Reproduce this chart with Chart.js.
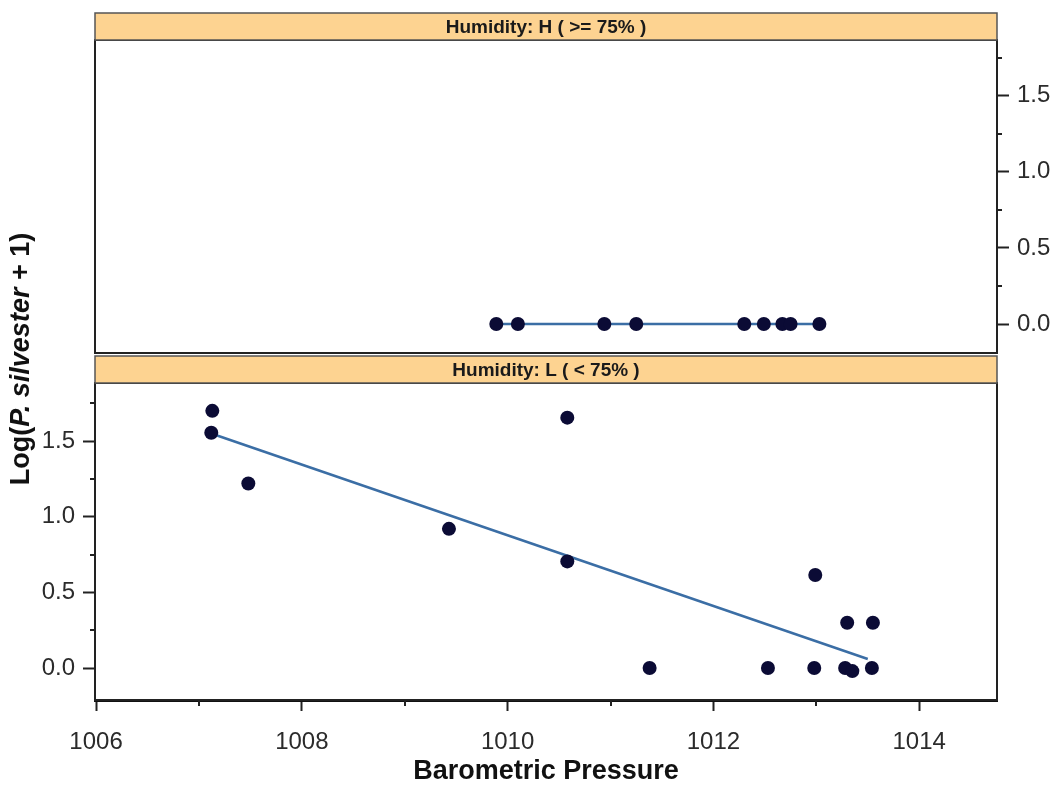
<!DOCTYPE html>
<html><head><meta charset="utf-8">
<script src="https://cdn.jsdelivr.net/npm/chart.js@4"></script>
<style>
html,body{margin:0;padding:0;background:#fff;}
#wrap{position:relative;width:1061px;height:785px;overflow:hidden;}
canvas{position:absolute;left:0;top:0;}
</style></head><body>
<div id="wrap"><canvas id="cLow" width="1061" height="785"></canvas><canvas id="cHigh" width="1061" height="355"></canvas></div>
<script>
// ---- data ----
const xTickValues = [1006, 1008, 1010, 1012, 1014];
const xMinorTicks = [1007, 1009, 1011, 1013];
const yTickValues = [0, 0.5, 1.0, 1.5];
const yMinorTicks = [0.25, 0.75, 1.25, 1.75];
const highLabel = 'Humidity: H ( >= 75% )';
const lowLabel = 'Humidity: L ( < 75% )';
const xTitle = 'Barometric Pressure';

const highPressure = [1009.89, 1010.10, 1010.94, 1011.25, 1012.30, 1012.49, 1012.67, 1012.75, 1013.03];
const highLog      = [0, 0, 0, 0, 0, 0, 0, 0, 0];
const highFitPressure = [1009.89, 1013.03];
const highFitLog      = [0, 0];

const lowPressure = [1007.13, 1007.12, 1007.48, 1009.43, 1010.58, 1010.58, 1012.99, 1013.30, 1013.55, 1011.38, 1012.53, 1012.98, 1013.28, 1013.35, 1013.54];
const lowLog      = [1.70, 1.555, 1.22, 0.92, 1.655, 0.705, 0.615, 0.30, 0.30, 0.0, 0.0, 0.0, 0.0, -0.02, 0.0];
const lowFitPressure = [1007.12, 1013.50];
const lowFitLog      = [1.55, 0.06];

// ---- styling ----
const FAM = "'Liberation Sans', Arial, sans-serif";
const INK = '#222';
const DOT = '#0b0b35';
const FIT = '#3b6ea5';
const STRIP = '#fdd391';
const X_MIN = 1005.99, X_MAX = 1014.756;

const pts = (xs, ys) => xs.map((x, i) => ({x: x, y: ys[i]}));

function stripPlugin(label) {
  return {
    id: 'strip',
    beforeDatasetsDraw(chart) {
      const a = chart.chartArea, ctx = chart.ctx;
      ctx.save();
      ctx.strokeStyle = INK; ctx.lineWidth = 2;
      ctx.strokeRect(a.left, a.top, a.right - a.left, a.bottom - a.top);
      ctx.restore();
    },
    afterDraw(chart) {
      const a = chart.chartArea, ctx = chart.ctx;
      const h = 27;
      ctx.save();
      ctx.fillStyle = STRIP;
      ctx.fillRect(a.left, a.top - h, a.right - a.left, h);
      ctx.strokeStyle = '#555'; ctx.lineWidth = 1.5;
      ctx.strokeRect(a.left, a.top - h, a.right - a.left, h);
      ctx.fillStyle = '#1a1a1a';
      ctx.font = 'bold 19px ' + FAM;
      ctx.textAlign = 'center'; ctx.textBaseline = 'middle';
      ctx.fillText(label, (a.left + a.right) / 2, a.top - h / 2 + 1);
      ctx.restore();
    }
  };
}

const minorPlugin = {
  id: 'minor',
  afterDraw(chart) {
    const ctx = chart.ctx;
    ctx.save();
    ctx.strokeStyle = INK; ctx.lineWidth = 2;
    const y = chart.scales.y;
    yMinorTicks.forEach(v => {
      if (v < y.min || v > y.max) return;
      const p = Math.round(y.getPixelForValue(v));
      ctx.beginPath();
      if (y.position === 'right') { ctx.moveTo(y.left, p); ctx.lineTo(y.left + 5, p); }
      else { ctx.moveTo(y.right, p); ctx.lineTo(y.right - 5, p); }
      ctx.stroke();
    });
    const x = chart.scales.x;
    if (x.options.display) {
      xMinorTicks.forEach(v => {
        const p = Math.round(x.getPixelForValue(v));
        ctx.beginPath(); ctx.moveTo(p, x.top); ctx.lineTo(p, x.top + 6); ctx.stroke();
      });
    }
    ctx.restore();
  }
};

const yTitlePlugin = {
  id: 'ytitle',
  afterDraw(chart) {
    const ctx = chart.ctx;
    const parts = [['Log(', 'bold'], ['P. silvester', 'italic bold'], [' + 1)', 'bold']];
    ctx.save();
    ctx.translate(22, 359);
    ctx.rotate(-Math.PI / 2);
    ctx.fillStyle = '#111';
    ctx.textBaseline = 'middle'; ctx.textAlign = 'left';
    let total = 0;
    parts.forEach(p => { ctx.font = p[1] + ' 27px ' + FAM; total += ctx.measureText(p[0]).width; });
    let xx = -total / 2;
    parts.forEach(p => { ctx.font = p[1] + ' 27px ' + FAM; ctx.fillText(p[0], xx, 0); xx += ctx.measureText(p[0]).width; });
    ctx.restore();
  }
};

function yScale(position, min, max, width) {
  return {
    type: 'linear', position: position, min: min, max: max,
    afterBuildTicks: s => { s.ticks = yTickValues.map(v => ({value: v})); },
    afterFit: s => { s.width = width; s.paddingTop = 0; s.paddingBottom = 0; },
    grid: {drawOnChartArea: false, drawTicks: true, tickLength: 12, tickColor: INK, tickWidth: 2},
    border: {display: true, color: INK, width: 2},
    ticks: {font: {family: FAM, size: 24}, color: '#2b2b2b', padding: 8, callback: v => Number(v).toFixed(1)}
  };
}

function datasets(px, py, fx, fy) {
  return [
    {type: 'scatter', data: pts(px, py), pointRadius: 7, pointBackgroundColor: DOT, pointBorderColor: DOT, pointBorderWidth: 0, showLine: false, order: 0},
    {type: 'line', data: pts(fx, fy), borderColor: FIT, borderWidth: 2.5, pointRadius: 0, fill: false, tension: 0, order: 1}
  ];
}

const common = {responsive: false, animation: false, devicePixelRatio: 1,
  plugins: {legend: {display: false}, tooltip: {enabled: false}}};

new Chart(document.getElementById('cLow'), {
  data: {datasets: datasets(lowPressure, lowLog, lowFitPressure, lowFitLog)},
  options: Object.assign({}, common, {
    layout: {autoPadding: false, padding: {left: 0, top: 383, right: 64, bottom: 0}},
    scales: {
      x: {
        type: 'linear', position: 'bottom', min: X_MIN, max: X_MAX,
        afterBuildTicks: s => { s.ticks = xTickValues.map(v => ({value: v})); },
        afterFit: s => { s.height = 85; },
        grid: {drawOnChartArea: false, drawTicks: true, tickLength: 11, tickColor: INK, tickWidth: 2},
        border: {display: true, color: '#111', width: 3},
        ticks: {font: {family: FAM, size: 24}, color: '#2b2b2b', padding: 17, maxRotation: 0, autoSkip: false, callback: v => String(v)},
        title: {display: true, text: xTitle, font: {family: FAM, size: 27, weight: 'bold', lineHeight: 1.0}, color: '#111', padding: {top: 0, bottom: 0}}
      },
      y: yScale('left', -0.211, 1.884, 95)
    }
  }),
  plugins: [stripPlugin(lowLabel), minorPlugin, yTitlePlugin]
});

new Chart(document.getElementById('cHigh'), {
  data: {datasets: datasets(highPressure, highLog, highFitPressure, highFitLog)},
  options: Object.assign({}, common, {
    layout: {autoPadding: false, padding: {left: 95, top: 40, right: 0, bottom: 2}},
    scales: {
      x: {type: 'linear', display: false, min: X_MIN, max: X_MAX},
      y: yScale('right', -0.19, 1.865, 64)
    }
  }),
  plugins: [stripPlugin(highLabel), minorPlugin]
});
</script>
</body></html>
